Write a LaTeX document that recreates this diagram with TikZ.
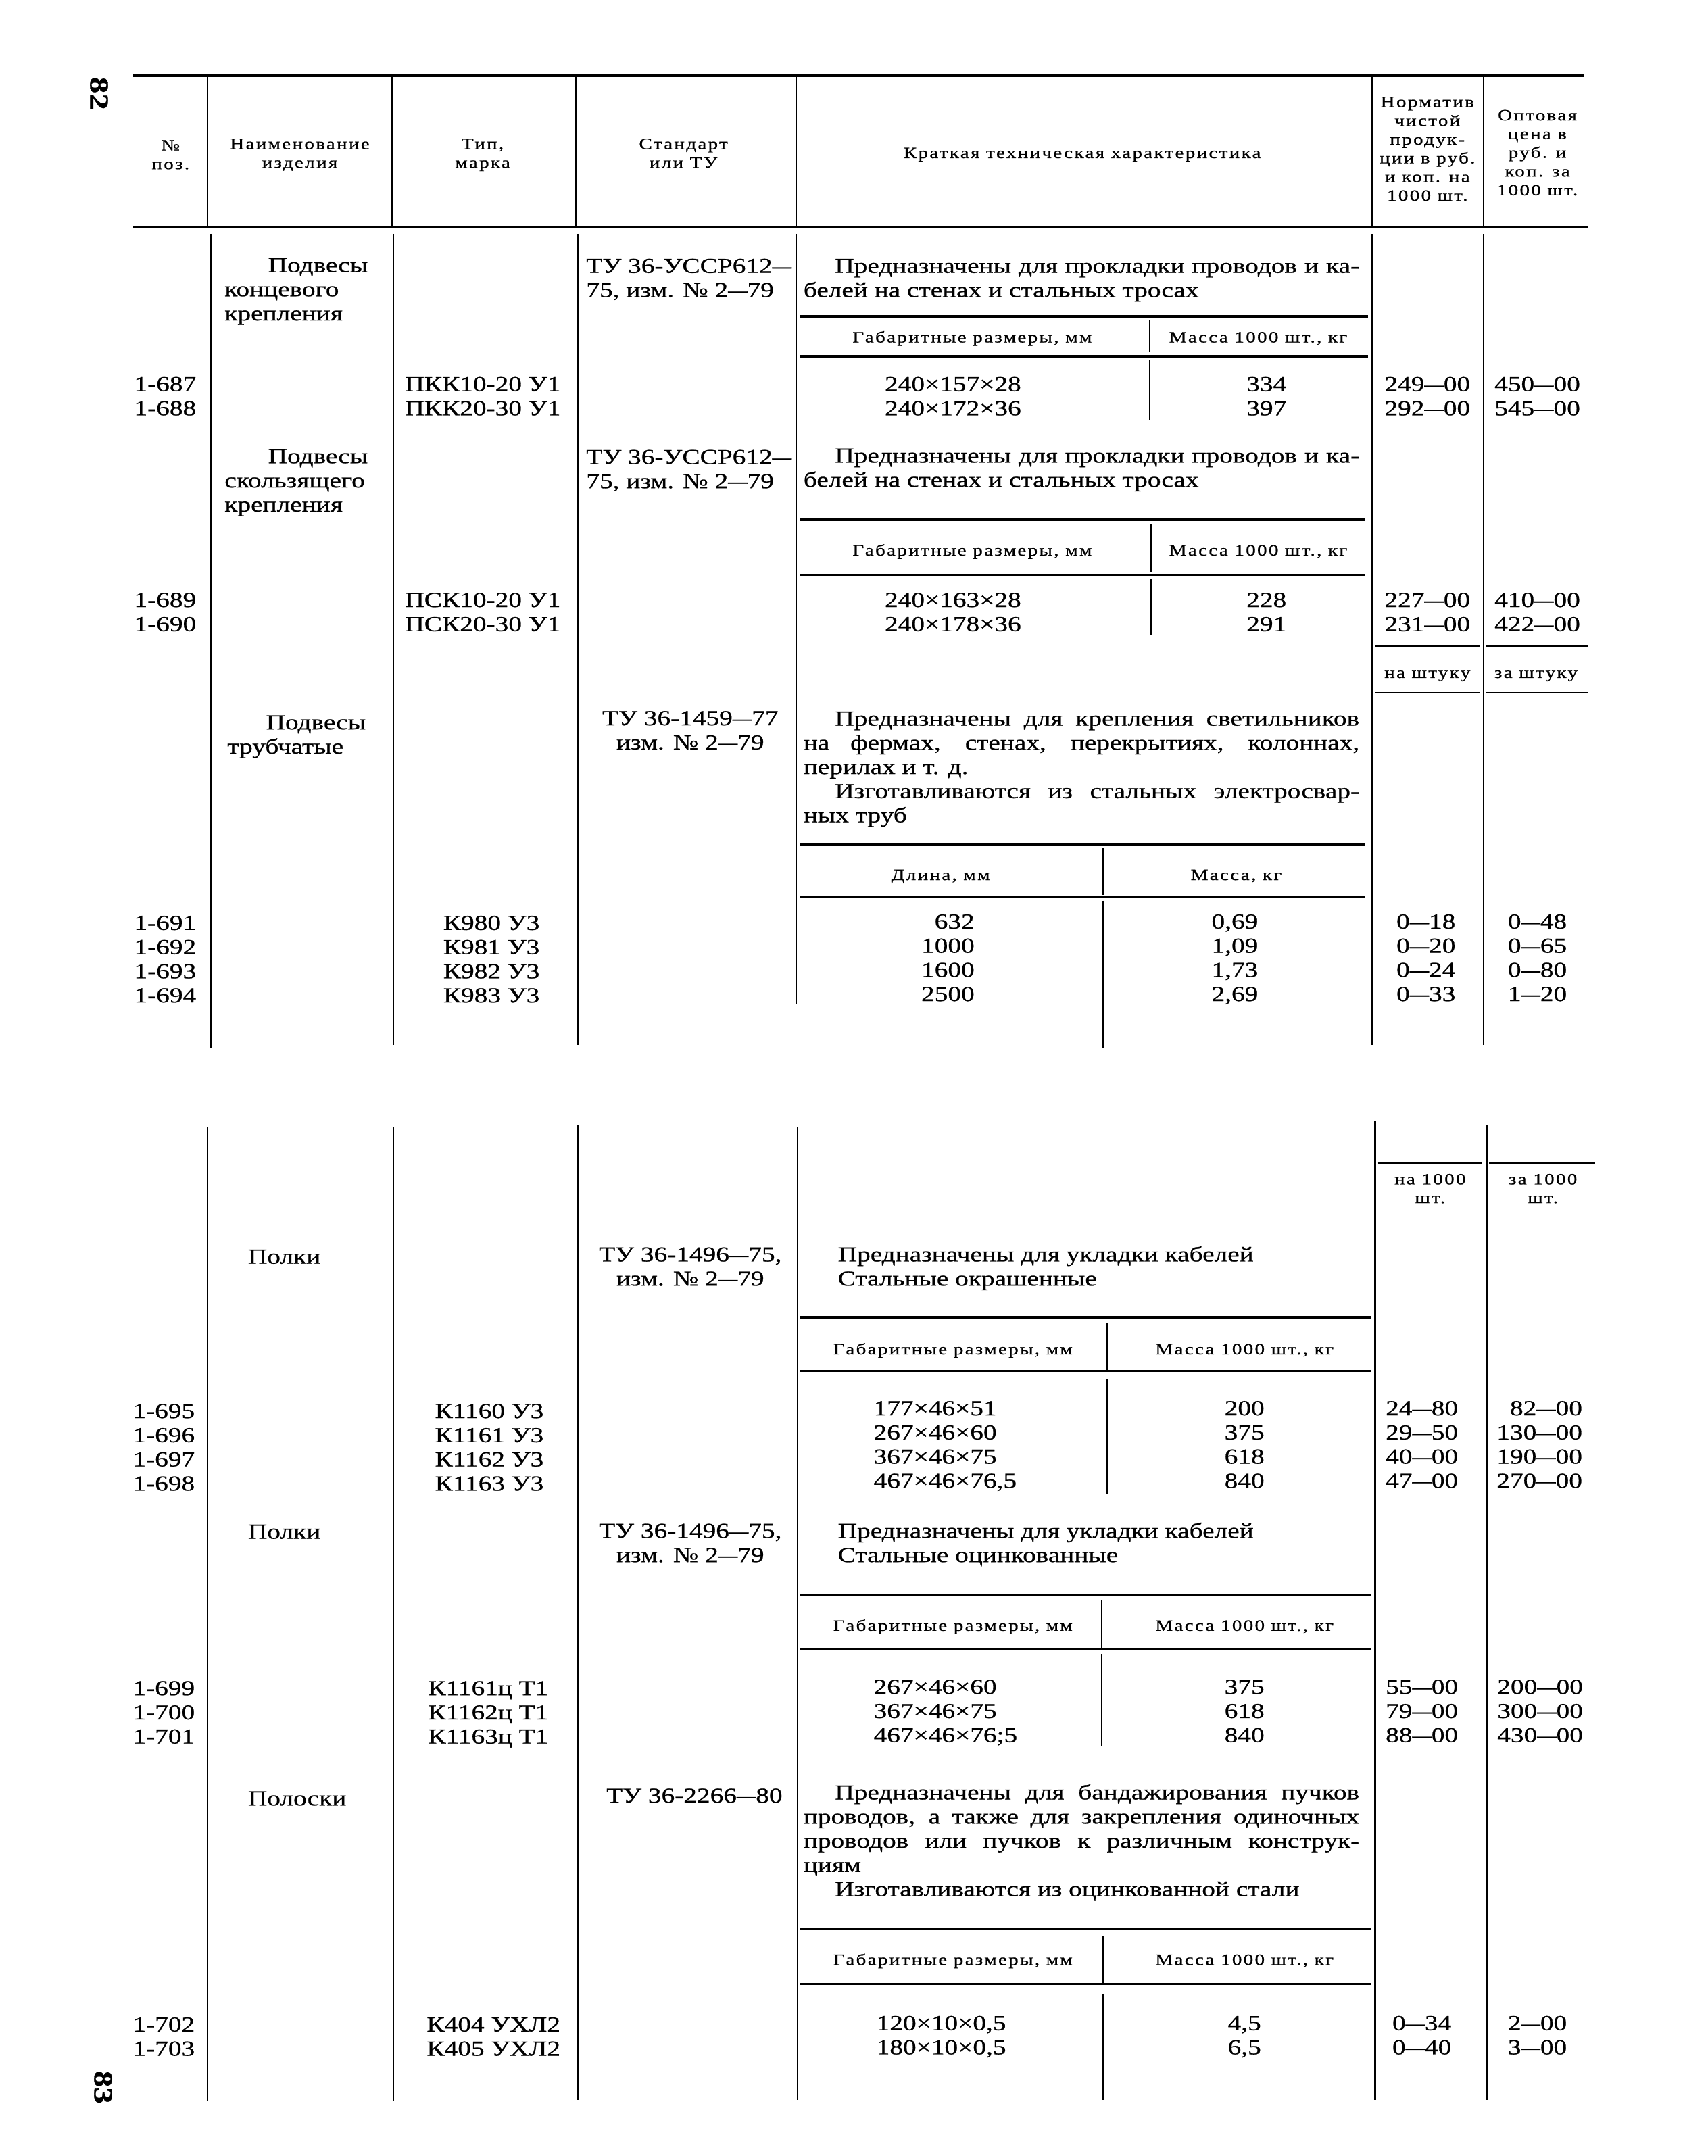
\documentclass[tikz,border=0pt]{standalone}
\usepackage{graphicx}
\usepackage{fontspec}
\setmainfont{Liberation Serif}[FakeStretch=1.25,FakeBold=0.8]
\newfontfamily\hdfam{Liberation Serif}[FakeStretch=1.25,FakeBold=0.8,LetterSpace=10]
\newcommand\bodyfont{\fontsize{8.8}{10}\selectfont}
\newcommand\headfont{\hdfam\fontsize{6.5}{7.75}\selectfont}
\newcommand\ind{\hspace*{13pt}}
\newcommand\jl[1]{\makebox[230pt][s]{#1}}
\newcommand\dd{\scalebox{0.72}[1]{—}}

\begin{document}
\begin{tikzpicture}[x=0.2mm,y=-0.2mm,
  txt/.style={inner sep=0pt,font=\bodyfont},
  hd/.style={inner sep=0pt,font=\headfont,align=center,anchor=base},
  num/.style={txt,align=right,anchor=base east},
  ctr/.style={txt,align=center,anchor=base},
  lft/.style={txt,align=left,anchor=base west},
  hrule/.style={line width=1.1pt},
  srule/.style={line width=0.9pt},
  vrule/.style={line width=0.7pt},
  thin/.style={line width=0.5pt}]
\useasboundingbox (0,0) rectangle (1242,1568);

% page 82: header (multi-line nodes sit on their last line)
\node[txt,font=\fontsize{11}{11}\bfseries,rotate=-90] (pg1) at (72,68) {82};
\draw[hrule] (97,55) -- (1152,55);
\draw[hrule] (97,165) -- (1155,165);
\foreach \x in {151,285,419,579,998,1079} \draw[vrule] (\x,55) -- (\x,165);
\node[hd] (hno) at (124,123) {№\\поз.};
\node[hd] (hname) at (218,122) {Наименование\\изделия};
\node[hd] (htype) at (351,122) {Тип,\\марка};
\node[hd] (hstd) at (497,122) {Стандарт\\или ТУ};
\node[hd] (hdesc) at (787,115) {Краткая техническая характеристика};
\node[hd] (hnorm) at (1038,146) {Норматив\\чистой\\продук-\\ции в руб.\\и коп. на\\1000 шт.};
\node[hd] (hprice) at (1118,142) {Оптовая\\цена в\\руб. и\\коп. за\\1000 шт.};

% page 82: body
\draw[vrule] (153,170) -- (153,762);
\draw[vrule] (286,170) -- (286,760);
\draw[vrule] (420,170) -- (420,760);
\draw[vrule] (579,170) -- (579,730);
\draw[vrule] (998,170) -- (998,760);
\draw[vrule] (1079,170) -- (1079,760);

\node[lft] (nm1) at (163,233) {\hspace*{18pt}Подвесы\\концевого\\крепления};
\node[lft] (sd1) at (426,216) {ТУ 36-УССР612\dd\\75, изм. № 2\dd 79};
\node[lft] (ds1) at (584,216) {\jl{\ind Предназначены для прокладки проводов и ка-}\\белей на стенах и стальных тросах};
\draw[srule] (582,230) -- (995,230);
\node[hd] (sh1a) at (707,249) {Габаритные размеры, мм};
\node[hd] (sh1b) at (915,249) {Масса 1000 шт., кг};
\draw[thin] (836,233) -- (836,256);
\draw[srule] (582,259) -- (995,259);
\draw[thin] (836,262) -- (836,305);
\node[num] (n1) at (143,302) {1-687\\1-688};
\node[num] (mk1) at (408,302) {ПКК10-20 У1\\ПКК20-30 У1};
\node[ctr] (sz1) at (693,302) {240×157×28\\240×172×36};
\node[ctr] (ms1) at (921,302) {334\\397};
\node[ctr] (nr1) at (1038,302) {249\dd 00\\292\dd 00};
\node[ctr] (pr1) at (1118,302) {450\dd 00\\545\dd 00};

\node[lft] (nm2) at (163,372) {\hspace*{18pt}Подвесы\\скользящего\\крепления};
\node[lft] (sd2) at (426,355) {ТУ 36-УССР612\dd\\75, изм. № 2\dd 79};
\node[lft] (ds2) at (584,354) {\jl{\ind Предназначены для прокладки проводов и ка-}\\белей на стенах и стальных тросах};
\draw[srule] (582,378) -- (993,378);
\node[hd] (sh2a) at (707,404) {Габаритные размеры, мм};
\node[hd] (sh2b) at (915,404) {Масса 1000 шт., кг};
\draw[thin] (837,381) -- (837,416);
\draw[srule] (582,418) -- (993,418);
\draw[thin] (837,421) -- (837,462);
\node[num] (n2) at (143,459) {1-689\\1-690};
\node[num] (mk2) at (408,459) {ПСК10-20 У1\\ПСК20-30 У1};
\node[ctr] (sz2) at (693,459) {240×163×28\\240×178×36};
\node[ctr] (ms2) at (921,459) {228\\291};
\node[ctr] (nr2) at (1038,459) {227\dd 00\\231\dd 00};
\node[ctr] (pr2) at (1118,459) {410\dd 00\\422\dd 00};
\draw[thin] (1000,470) -- (1076,470);
\draw[thin] (1081,470) -- (1155,470);
\node[hd] (pc1) at (1038,493) {на штуку};
\node[hd] (pc2) at (1117,493) {за штуку};
\draw[thin] (1000,504) -- (1076,504);
\draw[thin] (1081,504) -- (1155,504);

\node[lft] (nm3) at (165,548) {\hspace*{16pt}Подвесы\\трубчатые};
\node[ctr] (sd3) at (502,545) {ТУ 36-1459\dd 77\\изм. № 2\dd 79};
\node[lft] (ds3) at (584,598) {\jl{\ind Предназначены для крепления светильников}\\
  \jl{на фермах, стенах, перекрытиях, колоннах,}\\перилах и т. д.\\
  \jl{\ind Изготавливаются из стальных электросвар-}\\ных труб};
\draw[srule] (582,614) -- (993,614);
\node[hd] (sh3a) at (684,640) {Длина, мм};
\node[hd] (sh3b) at (899,640) {Масса, кг};
\draw[thin] (802,617) -- (802,651);
\draw[srule] (582,652) -- (993,652);
\draw[thin] (802,655) -- (802,762);
\node[num] (n3) at (143,729) {1-691\\1-692\\1-693\\1-694};
\node[lft] (mk3) at (322,729) {К980 У3\\К981 У3\\К982 У3\\К983 У3};
\node[num] (sz3) at (709,728) {632\\1000\\1600\\2500};
\node[ctr] (ms3) at (898,728) {0,69\\1,09\\1,73\\2,69};
\node[ctr] (nr3) at (1037,728) {0\dd 18\\0\dd 20\\0\dd 24\\0\dd 33};
\node[ctr] (pr3) at (1118,728) {0\dd 48\\0\dd 65\\0\dd 80\\1\dd 20};

% page 83
\draw[vrule] (151,820) -- (151,1528);
\draw[vrule] (286,820) -- (286,1528);
\draw[vrule] (420,818) -- (420,1527);
\draw[vrule] (580,820) -- (580,1527);
\draw[vrule] (1000,815) -- (1000,1527);
\draw[vrule] (1081,818) -- (1081,1527);
\draw[thin] (1002,846) -- (1078,846);
\draw[thin] (1083,846) -- (1160,846);
\node[hd] (pc3) at (1040,875) {на 1000\\шт.};
\node[hd] (pc4) at (1122,875) {за 1000\\шт.};
\draw[thin] (1002,885) -- (1078,885);
\draw[thin] (1083,885) -- (1160,885);

\node[lft] (nm4) at (180,919) {Полки};
\node[ctr] (sd4) at (502,935) {ТУ 36-1496\dd 75,\\изм. № 2\dd 79};
\node[lft] (ds4) at (609,935) {Предназначены для укладки кабелей\\Стальные окрашенные};
\draw[srule] (582,958) -- (997,958);
\node[hd] (sh4a) at (693,985) {Габаритные размеры, мм};
\node[hd] (sh4b) at (905,985) {Масса 1000 шт., кг};
\draw[thin] (805,962) -- (805,997);
\draw[srule] (582,997) -- (997,997);
\draw[thin] (805,1003) -- (805,1087);
\node[num] (n4) at (142,1084) {1-695\\1-696\\1-697\\1-698};
\node[lft] (mk4) at (316,1084) {К1160 У3\\К1161 У3\\К1162 У3\\К1163 У3};
\node[lft] (sz4) at (635,1082) {177×46×51\\267×46×60\\367×46×75\\467×46×76,5};
\node[ctr] (ms4) at (905,1082) {200\\375\\618\\840};
\node[ctr] (nr4) at (1034,1082) {24\dd 80\\29\dd 50\\40\dd 00\\47\dd 00};
\node[num] (pr4) at (1151,1082) {82\dd 00\\130\dd 00\\190\dd 00\\270\dd 00};

\node[lft] (nm5) at (180,1119) {Полки};
\node[ctr] (sd5) at (502,1136) {ТУ 36-1496\dd 75,\\изм. № 2\dd 79};
\node[lft] (ds5) at (609,1136) {Предназначены для укладки кабелей\\Стальные оцинкованные};
\draw[srule] (582,1160) -- (997,1160);
\node[hd] (sh5a) at (693,1186) {Габаритные размеры, мм};
\node[hd] (sh5b) at (905,1186) {Масса 1000 шт., кг};
\draw[thin] (801,1164) -- (801,1199);
\draw[srule] (582,1199) -- (997,1199);
\draw[thin] (801,1203) -- (801,1270);
\node[num] (n5) at (142,1268) {1-699\\1-700\\1-701};
\node[lft] (mk5) at (311,1268) {К1161ц Т1\\К1162ц Т1\\К1163ц Т1};
\node[lft] (sz5) at (635,1267) {267×46×60\\367×46×75\\467×46×76;5};
\node[ctr] (ms5) at (905,1267) {375\\618\\840};
\node[ctr] (nr5) at (1034,1267) {55\dd 00\\79\dd 00\\88\dd 00};
\node[ctr] (pr5) at (1120,1267) {200\dd 00\\300\dd 00\\430\dd 00};

\node[lft] (nm6) at (180,1313) {Полоски};
\node[ctr] (sd6) at (505,1311) {ТУ 36-2266\dd 80};
\node[lft] (ds6) at (584,1379) {\jl{\ind Предназначены для бандажирования пучков}\\
  \jl{проводов, а также для закрепления одиночных}\\
  \jl{проводов или пучков к различным конструк-}\\циям\\
  \ind Изготавливаются из оцинкованной стали};
\draw[srule] (582,1403) -- (997,1403);
\node[hd] (sh6a) at (693,1429) {Габаритные размеры, мм};
\node[hd] (sh6b) at (905,1429) {Масса 1000 шт., кг};
\draw[thin] (802,1408) -- (802,1442);
\draw[srule] (582,1443) -- (997,1443);
\draw[thin] (802,1450) -- (802,1527);
\node[num] (n6) at (142,1495) {1-702\\1-703};
\node[lft] (mk6) at (310,1495) {К404 УХЛ2\\К405 УХЛ2};
\node[lft] (sz6) at (637,1494) {120×10×0,5\\180×10×0,5};
\node[ctr] (ms6) at (905,1494) {4,5\\6,5};
\node[ctr] (nr6) at (1034,1494) {0\dd 34\\0\dd 40};
\node[ctr] (pr6) at (1118,1494) {2\dd 00\\3\dd 00};
\node[txt,font=\fontsize{11}{11}\bfseries,rotate=-90] (pg2) at (75,1518) {83};
\end{tikzpicture}
\end{document}
